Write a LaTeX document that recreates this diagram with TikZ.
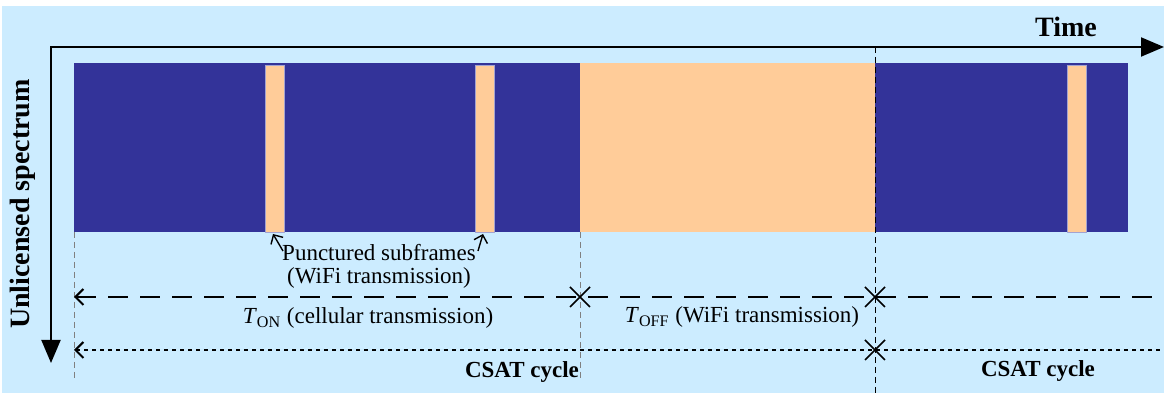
\documentclass[tikz,border=0pt]{standalone}
\usepackage{fontspec}
\setmainfont{Liberation Serif}
\usepackage{xcolor}
\usetikzlibrary{arrows.meta}
\usetikzlibrary{positioning}
\definecolor{skyblue}{RGB}{204,236,255}
\definecolor{cellnavy}{RGB}{51,51,153}
\definecolor{wifipeach}{RGB}{255,204,153}

\begin{document}
\begin{tikzpicture}[x=0.5pt,y=-0.5pt,
	axis/.style={line width=1pt,{Triangle[length=11.5pt,width=9.5pt]}-{Triangle[length=11.5pt,width=9.5pt]}},
	span/.style={line width=1pt,{Straight Barb[length=4pt,width=8pt]}-},
	guide/.style={line width=0.5pt,dash pattern=on 3pt off 2pt},
	pointer/.style={line width=0.7pt,-{Straight Barb[length=3.5pt,width=7pt]}},
	lbl/.style={font=\fontsize{11.5}{11.5}\selectfont},
	boldlbl/.style={font=\fontsize{11.5}{13}\selectfont\bfseries},
	biglbl/.style={font=\fontsize{14}{16}\selectfont\bfseries}]
		\useasboundingbox (0,0) rectangle (1164,394);
		\fill[skyblue] (2,6) rectangle (1164,393);
		% time and spectrum axes
		\coordinate (origin) at (51,47);
		\coordinate (tend) at (1164,47);
		\coordinate (send) at (51,363);
		\draw[axis] (send) -- (origin) -- (tend);
		\node[biglbl] (time) at (1066,27) {Time};
		\node[biglbl,rotate=90] (spec) at (23,204) {Unlicensed spectrum};
		% ON and OFF periods
		\fill[cellnavy] (74,63) rectangle (580,232);
		\fill[wifipeach] (580,63) rectangle (875,232);
		\fill[cellnavy] (875,63) rectangle (1128,232);
		\foreach \x/\n in {265/1,475/2,1067/3}
		{
			\draw[fill=wifipeach,draw=cellnavy!45,line width=0.3pt] (\x,65) rectangle +(19,167);
			\coordinate (pc\n) at (\x+8,234);
		}
		% boundaries
		\draw[guide,gray] (74,232) -- (74,378);
		\draw[guide,gray] (580,232) -- (580,378);
		\draw[guide] (875,47) -- (875,394);
		\coordinate (sA) at (74,297);
		\coordinate (sB) at (1164,297);
		\coordinate (cA) at (74,350);
		\coordinate (cB) at (1164,350);
		\draw[span,dash pattern=on 10pt off 6pt] (sA) -- (sB);
		\draw[span,dash pattern=on 2pt off 2pt] (cA) -- (cB);
		\foreach \x/\y in {580/297,875/297,875/350}
		{
			\draw[line width=0.8pt] (\x-10,\y-10) -- (\x+10,\y+10);
			\draw[line width=0.8pt] (\x-10,\y+10) -- (\x+10,\y-10);
		}
		% labels
		\node[lbl,align=center] (punct) at (379,266) {Punctured subframes\\(WiFi transmission)};
		\coordinate (pt1) at (283,251);
		\coordinate (pt2) at (478,251);
		\draw[pointer] (pt1) -- (pc1);
		\draw[pointer] (pt2) -- (pc2);
		\node[lbl] (ton) at (368,318) {\textit{T}\textsubscript{ON} (cellular transmission)};
		\node[lbl] (toff) at (742,317) {\textit{T}\textsubscript{OFF} (WiFi transmission)};
		\node[boldlbl] (csat1) at (522,372) {CSAT cycle};
		\node[boldlbl] (csat2) at (1038,371) {CSAT cycle};
\end{tikzpicture}
\end{document}
